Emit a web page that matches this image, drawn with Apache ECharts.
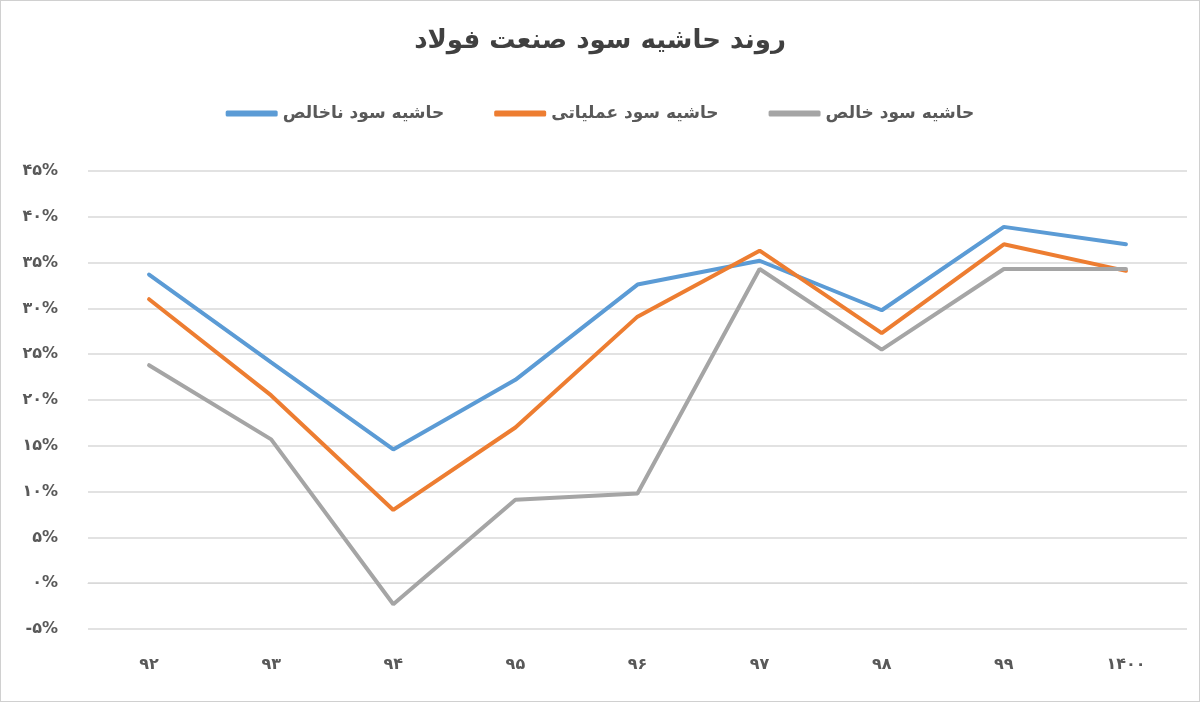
<!DOCTYPE html>
<html><head><meta charset="utf-8">
<script src="https://cdn.jsdelivr.net/npm/echarts@6/dist/echarts.min.js"></script>
<style>html,body{margin:0;padding:0;background:#fff}#c{width:1200px;height:702px;box-sizing:border-box;border:1px solid #d0d0d0}</style>
</head><body><div id="c"></div>
<script>
const categories = ['۹۲','۹۳','۹۴','۹۵','۹۶','۹۷','۹۸','۹۹','۱۴۰۰'];
const grossMargin = [33.7, 24.1, 14.6, 22.2, 32.6, 35.2, 29.8, 38.9, 37.0];
const operatingMargin = [31.0, 20.5, 8.0, 17.0, 29.1, 36.3, 27.3, 37.0, 34.1];
const netMargin = [23.8, 15.7, -2.3, 9.1, 9.8, 34.3, 25.5, 34.3, 34.3];
const fa = s => String(s).replace(/[0-9]/g, d => '۰۱۲۳۴۵۶۷۸۹'[d]);
const font = 'DejaVu Sans';
const chart = echarts.init(document.getElementById('c'));
const mk = (name, data, color) => ({name, type:'line', data, symbol:'none', smooth:false,
  lineStyle:{width:4, color, cap:'round'}, itemStyle:{color}});
chart.setOption({
  animation:false,
  title:{text:'روند حاشیه سود صنعت فولاد', left:'center', top:22,
    textStyle:{fontFamily:font, fontSize:26, fontWeight:'bold', color:'#404040'}},
  legend:{top:99, left:'center', itemGap:50, itemWidth:52, itemHeight:6, icon:'roundRect',
    textStyle:{fontFamily:font, fontSize:17, fontWeight:'bold', color:'#595959'},
    data:['حاشیه سود ناخالص','حاشیه سود عملیاتی','حاشیه سود خالص']},
  grid:{left:87, right:12, top:170, bottom:72},
  xAxis:{type:'category', data:categories, boundaryGap:true,
    axisLine:{lineStyle:{color:'#d9d9d9'}}, axisTick:{show:false},
    axisLabel:{fontFamily:font, fontSize:16, fontWeight:'bold', color:'#595959', margin:28}},
  yAxis:{type:'value', min:-5, max:45, interval:5,
    axisLabel:{fontFamily:font, fontSize:16, fontWeight:'bold', color:'#595959', margin:30,
      formatter:v=> (v<0?'-'+fa(-v):fa(v))+'%'},
    splitLine:{lineStyle:{color:'#d9d9d9', width:1.5}}},
  series:[mk('حاشیه سود ناخالص', grossMargin, '#5B9BD5'),
          mk('حاشیه سود عملیاتی', operatingMargin, '#ED7D31'),
          mk('حاشیه سود خالص', netMargin, '#A5A5A5')]
});
</script></body></html>
